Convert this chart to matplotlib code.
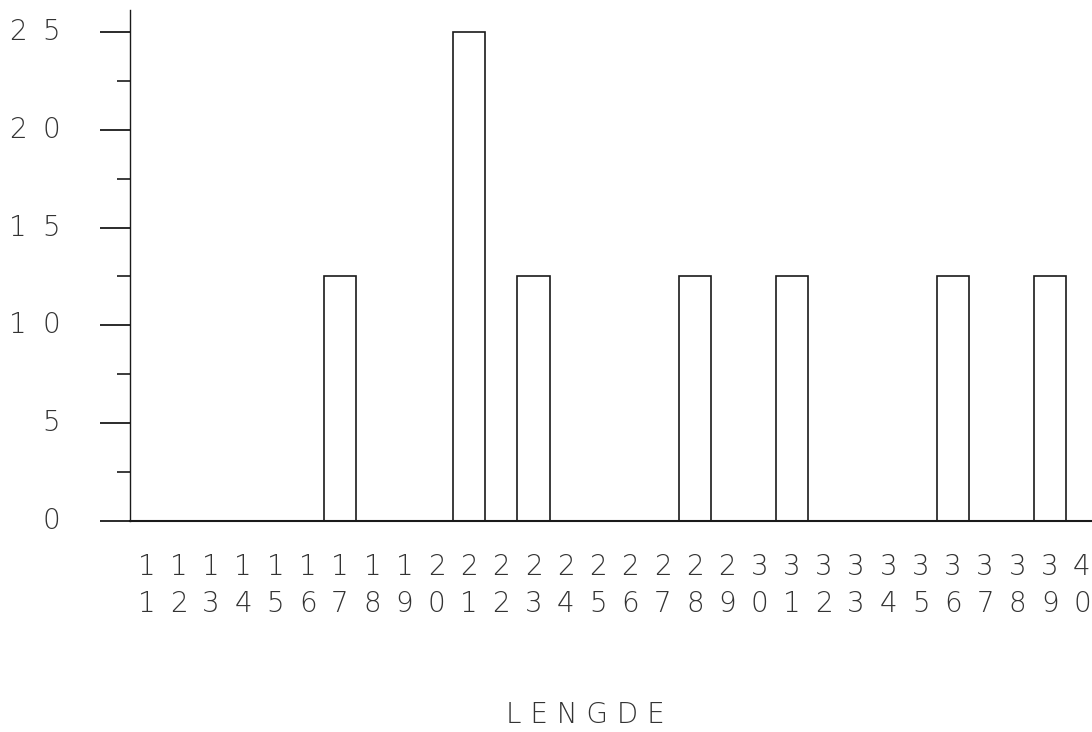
import numpy as np
import matplotlib
matplotlib.use("Agg")
import matplotlib.pyplot as plt
from matplotlib.transforms import blended_transform_factory

# LENGDE categories and percentage of observations
lengde = list(range(11, 41))
prosent = [0, 0, 0, 0, 0, 0, 12.5, 0, 0, 0,
           25, 0, 12.5, 0, 0, 0, 0, 12.5, 0, 0,
           12.5, 0, 0, 0, 0, 12.5, 0, 0, 12.5, 0]
y_major = [0, 5, 10, 15, 20, 25]
y_minor = [2.5, 7.5, 12.5, 17.5, 22.5]

W, H = 1092, 732
fig = plt.figure(figsize=(W / 100, H / 100), dpi=100)
ax = fig.add_axes([130 / W, (H - 521) / H, (W - 130) / W, (521 - 10) / H])

ink = "#1a1a1a"
ax.bar(lengde, prosent, width=1.0, color="white", edgecolor=ink, linewidth=1.2)

ax.set_xlim(10.49, 40.31)
ax.set_ylim(0, 26.12)

for s in ["top", "right"]:
    ax.spines[s].set_visible(False)
ax.spines["left"].set_linewidth(1.0)
ax.spines["bottom"].set_linewidth(1.5)
ax.spines["left"].set_color(ink)
ax.spines["bottom"].set_color(ink)

ax.set_yticks(y_major)
ax.set_yticks(y_minor, minor=True)
ax.tick_params(axis="y", which="major", length=30 * 0.72, width=1.3, color=ink, labelleft=False)
ax.tick_params(axis="y", which="minor", length=13 * 0.72, width=1.2, color=ink)
ax.set_xticks([])

font = dict(family="DejaVu Sans", fontsize=20, color="#333333", fontweight="light")

# y labels, digits spaced apart
ty = blended_transform_factory(fig.transFigure, ax.transData)
for v in y_major:
    s = str(v)
    if len(s) == 2:
        fig.text(18 / W, v, s[0], transform=ty, ha="center", va="center", **font)
    fig.text(51 / W, v, s[-1], transform=ty, ha="center", va="center", **font)

# x labels, two rows: tens digit over units digit
tx = blended_transform_factory(ax.transData, fig.transFigure)
for c in lengde:
    s = str(c)
    ax.text(c, 1 - 567 / H, s[0], transform=tx, ha="center", va="center", **font)
    ax.text(c, 1 - 604 / H, s[1], transform=tx, ha="center", va="center", **font)

fig.text(585 / W, 1 - 715 / H, "L E N G D E", ha="center", va="center", **font)

fig.savefig("out.png", dpi=100)
